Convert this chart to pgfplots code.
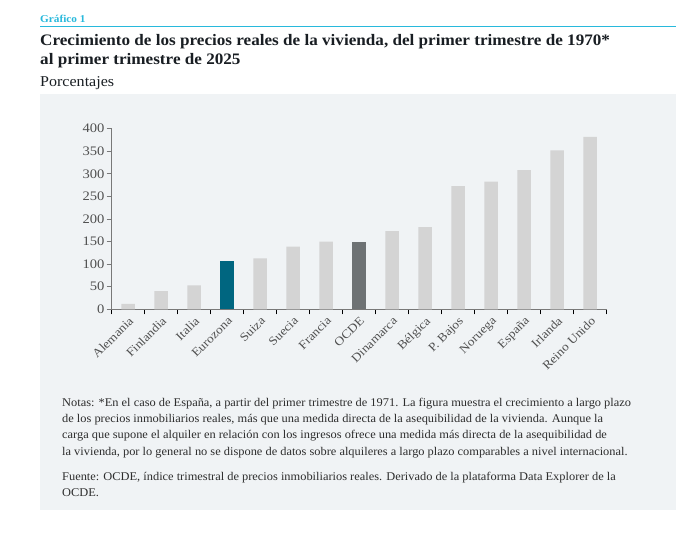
\documentclass[border=0pt]{standalone}
\usepackage{pgfplots}
\pgfplotsset{compat=1.18}
\usepackage{fontspec}
\setmainfont{Liberation Serif}
\newfontfamily\titlefont[FakeStretch=1.07]{Liberation Serif}
\newfontfamily\notefont[FakeStretch=1.05]{Liberation Serif}
\newfontfamily\tickfont[FakeStretch=1.12]{Liberation Serif}

\definecolor{panel}{RGB}{240,243,245}
\definecolor{accent}{RGB}{40,185,220}
\definecolor{barlight}{RGB}{212,212,212}
\definecolor{eurozona}{RGB}{0,102,128}
\definecolor{ocde}{RGB}{110,114,116}
\definecolor{titletxt}{RGB}{25,30,35}
\definecolor{bodytxt}{RGB}{45,45,45}
\definecolor{ticktxt}{RGB}{80,80,80}
\definecolor{axisgray}{RGB}{120,120,120}

\begin{document}
\begin{tikzpicture}
% page and panel
\fill[white] (0pt,0pt) rectangle (689pt,539pt);
\fill[panel] (40pt,444.5pt) rectangle (676pt,29pt);

% header
\node[anchor=base west, inner sep=0pt, text=accent, font=\titlefont\bfseries\fontsize{10.5}{12}\selectfont] at (40pt,516pt) {Gráfico 1};
\draw[accent, line width=1.3pt] (40pt,512.3pt) -- (676pt,512.3pt);
\node[anchor=base west, inner sep=0pt, text=titletxt, font=\titlefont\bfseries\fontsize{16}{18}\selectfont] at (40pt,493.3pt) {Crecimiento de los precios reales de la vivienda, del primer trimestre de 1970*};
\node[anchor=base west, inner sep=0pt, text=titletxt, font=\titlefont\bfseries\fontsize{16}{18}\selectfont] at (40pt,474pt) {al primer trimestre de 2025};
\node[anchor=base west, inner sep=0pt, text=titletxt, font=\titlefont\fontsize{15}{17}\selectfont] at (40pt,452.3pt) {Porcentajes};

\begin{axis}[
  at={(111.7pt,229.7pt)}, anchor=south west,
  scale only axis, width=495pt, height=180.6pt,
  xmin=0.5, xmax=15.5, ymin=0, ymax=400,
  axis x line*=bottom, axis y line*=left,
  x axis line style={axisgray, line width=0.9pt},
  y axis line style={axisgray, line width=0.9pt},
  tick align=outside,
  major tick length=5pt, minor tick length=5pt,
  ytick={0,50,...,400},
  xtick={1,...,15},
  xticklabels={Alemania,Finlandia,Italia,Eurozona,Suiza,Suecia,Francia,OCDE,Dinamarca,Bélgica,P. Bajos,Noruega,España,Irlanda,Reino Unido},
  major x tick style={draw=none},
  minor xtick={0.5,1.5,...,15.5},
  minor x tick style={black, line width=0.7pt},
  y tick style={axisgray, line width=0.8pt},
  /pgf/number format/assume math mode=true,
  yticklabel style={font=\tickfont\fontsize{13}{13}\selectfont, text=ticktxt, inner sep=2pt},
  xticklabel style={rotate=45, anchor=north east, font=\tickfont\fontsize{12}{12}\selectfont, text=ticktxt, inner sep=1pt},
  ybar, bar width=13.5pt,
]
\addplot[fill=barlight, draw=none, bar shift=0pt] coordinates {
  (1,12) (2,40) (3,53) (5,113) (6,139) (7,150)
  (9,173) (10,182) (11,273) (12,283) (13,308) (14,352) (15,382)
};
\addplot[fill=eurozona, draw=none, bar shift=0pt] coordinates {(4,107)};
\addplot[fill=ocde, draw=none, bar shift=0pt] coordinates {(8,150)};
\end{axis}

% notes and source
\begin{scope}[every node/.style={anchor=base west, inner sep=0pt, text=bodytxt, font=\notefont\fontsize{11.8}{13}\selectfont}]
\node at (62pt,132pt) {Notas: *En el caso de España, a partir del primer trimestre de 1971. La figura muestra el crecimiento a largo plazo};
\node at (62pt,116pt) {de los precios inmobiliarios reales, más que una medida directa de la asequibilidad de la vivienda. Aunque la};
\node at (62pt,100pt) {carga que supone el alquiler en relación con los ingresos ofrece una medida más directa de la asequibilidad de};
\node at (62pt,84pt) {la vivienda, por lo general no se dispone de datos sobre alquileres a largo plazo comparables a nivel internacional.};
\node at (62pt,59pt) {Fuente: OCDE, índice trimestral de precios inmobiliarios reales. Derivado de la plataforma Data Explorer de la};
\node at (62pt,43pt) {OCDE.};
\end{scope}
\end{tikzpicture}
\end{document}
